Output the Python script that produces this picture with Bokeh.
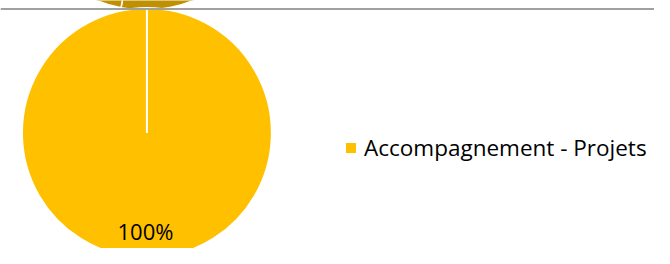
import numpy as np
from bokeh.plotting import figure
from bokeh.models import Range1d, Span, Legend, LegendItem, ColumnDataSource
from bokeh.core.properties import value
from bokeh.embed import file_html
from bokeh.resources import INLINE

# ---- data ----
categories = ["Accompagnement - Projets"]
values = [100]
colors = ["#FFC000"]

# remnant of the chart above (bottom edge of its pie)
upper_values = [53, 47]
upper_colors = ["#BF9000", "#BF9000"]

# figure fits the window (8px page margin); data units = reference pixels
W, H = 654, 248
RW, RH = 670, 264
FONT = "Open Sans"

p = figure(width=W, height=H, output_backend="svg", toolbar_location=None,
           x_range=Range1d(0, RW), y_range=Range1d(RH, 0),
           x_axis_location=None, y_axis_location=None, min_border=0,
           outline_line_color=None,
           background_fill_color="white", border_fill_color="white")
p.grid.visible = False


def pie_source(vals, cols, labels=None):
    v = np.asarray(vals, dtype=float)
    frac = v / v.sum()
    ends = np.cumsum(frac)
    starts = ends - frac
    span = np.minimum(frac, 0.99999)
    data = dict(
        start=np.pi / 2 - 2 * np.pi * starts,
        end=np.pi / 2 - 2 * np.pi * (starts + span),
        mid=np.pi / 2 - 2 * np.pi * (starts + ends) / 2,
        color=list(cols),
        pct=[f"{f * 100:.0f}%" for f in frac],
    )
    if labels is not None:
        data["label"] = list(labels)
    return ColumnDataSource(data), data


# upper (cut-off) pie
ucx, ucy, ur = 148, -126, 131
usrc, _ = pie_source(upper_values, upper_colors)
p.wedge(x=ucx, y=ucy, radius=ur, start_angle="start", end_angle="end",
        direction="clock", fill_color="color", line_color="white",
        line_width=1.5, source=usrc)

p.add_layout(Span(location=9, dimension="width", line_color="#A0A0A0",
                  line_width=2))

# main pie
cx, cy, r = 150, 141, 128
src, d = pie_source(values, colors, categories)
main = p.wedge(x=cx, y=cy, radius=r, start_angle="start", end_angle="end",
               direction="clock", fill_color="color", line_color="white",
               line_width=2, source=src)

# data labels (baseline placed inside the slice)
lab_r = 104
lx = [cx - 1.5 + lab_r * np.cos(a) for a in d["mid"]]
ly = [cy - lab_r * np.sin(a) for a in d["mid"]]
p.text(x=lx, y=ly, text=d["pct"], text_font=value(FONT),
       text_font_size="22px", text_color="#000000", text_align="center",
       text_baseline="alphabetic")

legend = Legend(items=[LegendItem(label=categories[i], renderers=[main], index=i)
                       for i in range(len(categories))],
                location=(343, 85), padding=0, margin=0, spacing=0,
                glyph_width=15, glyph_height=15, label_standoff=6,
                label_text_font=FONT, label_text_font_size="22.5px",
                label_text_color="#000000",
                border_line_color=None, background_fill_alpha=0)
p.add_layout(legend)

open("out.html", "w").write(file_html(p, INLINE))
